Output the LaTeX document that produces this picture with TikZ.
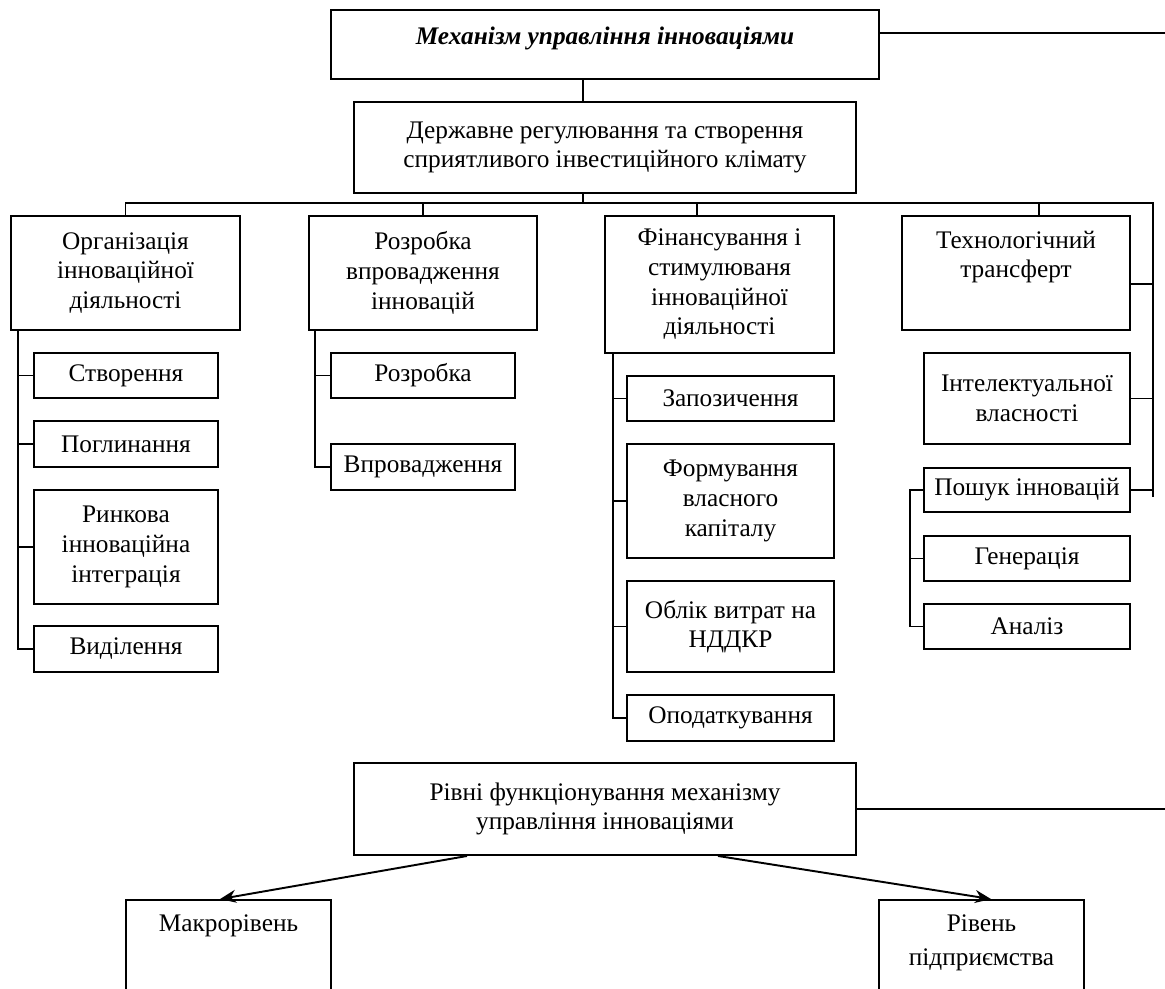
\documentclass[tikz,border=0pt]{standalone}
\usepackage{fontspec}
\setmainfont{Liberation Serif}
\usepackage{tikz}
\usetikzlibrary{calc, arrows.meta}

\tikzset{
  box/.style={draw, line width=1.1pt, align=center, inner sep=2pt, font=\fontsize{14.4}{16.9}\selectfont},
  toplbl/.style={anchor=north, align=center, inner sep=0pt, yshift=-0.31cm, font=\fontsize{14.4}{16.9}\selectfont},
  link/.style={line width=1.1pt},
}

\begin{document}
\begin{tikzpicture}[x=0.2mm, y=-0.2mm]

\useasboundingbox (0,0) rectangle (1165,988);
\clip (0,0) rectangle (1165,988);

% Top level
\node[box, minimum width=10.96cm, minimum height=1.38cm,
  label={[toplbl, yshift=-0.05cm]north:{\bfseries\itshape Механізм управління інноваціями}}] (mech) at (605,44.5) {};
\node[box, minimum width=10.04cm, minimum height=1.82cm] (reg) at (605,147.5) {Державне регулювання та створення\\сприятливого інвестиційного клімату};

% Main branches
\node[box, minimum width=4.58cm, minimum height=2.28cm] (org) at (125.5,273) {Організація\\інноваційної\\діяльності};
\node[box, minimum width=4.56cm, minimum height=2.28cm] (dev) at (423,273) {Розробка\\впровадження\\інновацій};
\node[box, minimum width=4.58cm, minimum height=2.74cm] (fin) at (719.5,284.5) {Фінансування і\\стимулюваня\\інноваційної\\діяльності};
\node[box, minimum width=4.56cm, minimum height=2.28cm,
  label={[toplbl]north:{Технологічний\\трансферт}}] (tech) at (1016,273) {};

% Organisation
\node[box, minimum width=3.68cm, minimum height=0.9cm] (create) at (126,375.5) {Створення};
\node[box, minimum width=3.68cm, minimum height=0.92cm] (absorb) at (126,444) {Поглинання};
\node[box, minimum width=3.68cm, minimum height=2.28cm] (market) at (126,547) {Ринкова\\інноваційна\\інтеграція};
\node[box, minimum width=3.68cm, minimum height=0.92cm] (split) at (126,649) {Виділення};

% Development
\node[box, minimum width=3.68cm, minimum height=0.9cm] (develop) at (423,375.5) {Розробка};
\node[box, minimum width=3.68cm, minimum height=0.92cm] (impl) at (423,467) {Впровадження};

% Financing
\node[box, minimum width=4.14cm, minimum height=0.9cm] (borrow) at (730.5,398.5) {Запозичення};
\node[box, minimum width=4.14cm, minimum height=2.28cm] (equity) at (730.5,501) {Формування\\власного\\капіталу};
\node[box, minimum width=4.14cm, minimum height=1.82cm] (rnd) at (730.5,626.5) {Облік витрат на\\НДДКР};
\node[box, minimum width=4.14cm, minimum height=0.92cm] (tax) at (730.5,718) {Оподаткування};

% Transfer
\node[box, minimum width=4.12cm, minimum height=1.82cm] (ip) at (1027,398.5) {Інтелектуальної\\власності};
\node[box, minimum width=4.12cm, minimum height=0.88cm] (search) at (1027,490) {Пошук інновацій};
\node[box, minimum width=4.12cm, minimum height=0.9cm] (gen) at (1027,558.5) {Генерація};
\node[box, minimum width=4.12cm, minimum height=0.9cm] (anal) at (1027,626.5) {Аналіз};

% Levels
\node[box, minimum width=10.04cm, minimum height=1.84cm] (lev) at (605,809) {Рівні функціонування механізму\\управління інноваціями};
\node[box, minimum width=4.1cm, minimum height=2.4cm,
  label={[toplbl]north:Макрорівень}] (macro) at (228.5,960) {};
\node[box, minimum width=4.1cm, minimum height=2.4cm,
  label={[toplbl, font=\fontsize{14.4}{19}\selectfont]north:{Рівень\\підприємства}}] (firm) at (981.5,960) {};

% Bus lines
\coordinate (bus) at (583,203);
\coordinate (rtop) at (1153,203);
\coordinate (rbot) at (1153,497);
\coordinate (edge) at (1165,0);

\draw[link] (mech.south -| bus) -- (reg.north -| bus);
\draw[link] (reg.south -| bus) -- (bus);
\draw[link] (org.north) -- (org.north |- bus) -- (rtop) -- (rbot);
\draw[link] (dev.north) -- (dev.north |- bus);
\coordinate (finTop) at ($(fin.north)+(-22.5,0)$);
\draw[link] (finTop) -- (finTop |- bus);
\coordinate (techTop) at ($(tech.north)+(23,0)$);
\draw[link] (techTop) -- (techTop |- bus);

% Lines to the right edge
\coordinate (mechR) at ($(mech.east)+(0,-11.5)$);
\draw[link] (mechR) -- (mechR -| edge);
\draw[link] (lev.east) -- (lev.east -| edge);

% Right vertical
\coordinate (techR) at ($(tech.east)+(0,11)$);
\draw[link] (techR) -- (techR -| rtop);
\draw[link] (ip.east) -- (ip.east -| rtop);
\draw[link] (search.east) -- (search.east -| rtop);

% Trunks
\coordinate (orgTrunk) at ($(org.south west)+(8,0)$);
\draw[link] (orgTrunk) |- (split.west);
\foreach \n in {create,absorb,market}
  \draw[link] (\n.west) -- (\n.west -| orgTrunk);

\coordinate (devTrunk) at ($(dev.south west)+(7,0)$);
\draw[link] (devTrunk) |- (impl.west);
\draw[link] (develop.west) -- (develop.west -| devTrunk);

\coordinate (finTrunk) at ($(fin.south west)+(9,0)$);
\draw[link] (finTrunk) |- (tax.west);
\foreach \n in {borrow,equity,rnd}
  \draw[link] (\n.west) -- (\n.west -| finTrunk);

\coordinate (techTrunk) at ($(search.west)+(-13,0)$);
\draw[link] (search.west) -- (techTrunk) |- (anal.west);
\draw[link] (gen.west) -- (gen.west -| techTrunk);

% Arrows
\coordinate (levL) at ($(lev.south west)+(114,0)$);
\coordinate (levR) at ($(lev.south west)+(365,0)$);
\coordinate (macroIn) at ($(macro.north west)+(95,0)$);
\coordinate (firmIn) at ($(firm.north west)+(113,0)$);
\draw[link, -{Stealth[length=3.2mm, width=2.6mm]}] (levL) -- (macroIn);
\draw[link, -{Stealth[length=3.2mm, width=2.6mm]}] (levR) -- (firmIn);

\end{tikzpicture}
\end{document}
